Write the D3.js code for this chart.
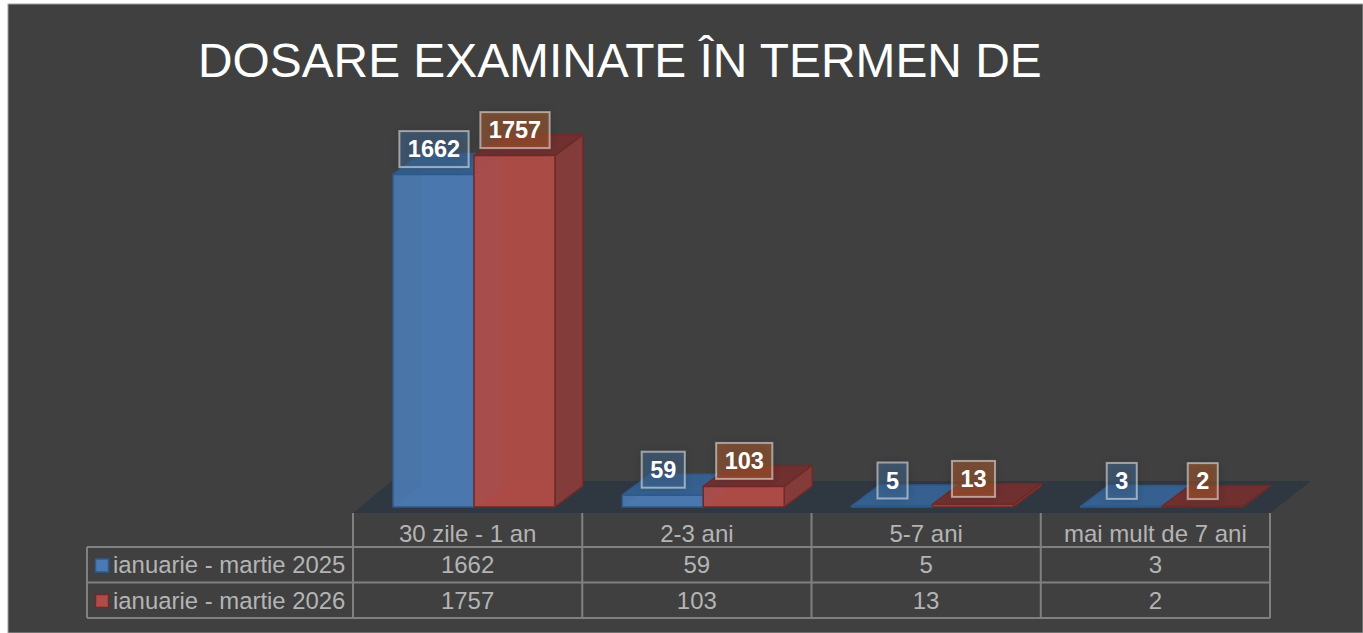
<!DOCTYPE html>
<html>
<head>
<meta charset="utf-8">
<script src="https://cdn.jsdelivr.net/npm/d3@7"></script>
<style>
  html, body { margin: 0; padding: 0; background: #fff; overflow: hidden; }
  svg { display: block; font-family: "Liberation Sans", Arial, sans-serif; }
</style>
</head>
<body>
<svg id="chart" width="1363" height="633"></svg>
<script>
const categories = ['30 zile - 1 an', '2-3 ani', '5-7 ani', 'mai mult de 7 ani'];
const seriesNames = ['ianuarie - martie 2025', 'ianuarie - martie 2026'];
const values2025 = [1662, 59, 5, 3];
const values2026 = [1757, 103, 13, 2];
const titleText = 'DOSARE EXAMINATE ÎN TERMEN DE';

const svg = d3.select('#chart');

const seriesValues = [values2025, values2026];
const colors = [
  { front: '#4b79b2', side: '#3d628f', top: '#35608f', edge: '#2f5a8e', label: 'rgba(68,108,152,.5)' },
  { front: '#b04c47', side: '#853c3a', top: '#6f2f2e', edge: '#6e2a28', label: 'rgba(180,96,48,.5)' }
];

// scales
const x = d3.scaleBand().domain(categories).range([353, 1270]);
const x1 = d3.scaleBand().domain(seriesNames).range([40, 202]);
const y = d3.scaleLinear().domain([0, 2000]).range([507, 107]);
const depthX = 28, depthY = 21;

// background
svg.append('rect').attr('x', 8).attr('y', 4).attr('width', 1355).attr('height', 629)
  .attr('fill', '#404040').attr('stroke', '#a0a0a0').attr('stroke-width', 1);

let defs = svg.append('defs');
defs.append('filter').attr('id', 'blur').attr('x', '-40%').attr('y', '-40%').attr('width', '180%').attr('height', '180%')
  .append('feGaussianBlur').attr('stdDeviation', 5);

// title
svg.append('text').attr('x', 198).attr('y', 77).attr('fill', '#fff')
  .attr('font-size', 47.85).text(titleText);

// floor
svg.append('polygon')
  .attr('points', [[353, 513], [1270, 513], [1311, 481], [392, 481]].join(' '))
  .attr('fill', '#2f3741');

// bars
function face(g, pts, fill, stroke, opacity) {
  g.append('polygon').attr('points', pts.join(' '))
    .attr('fill', fill).attr('fill-opacity', opacity)
    .attr('stroke', stroke).attr('stroke-width', 1.5).attr('stroke-linejoin', 'round');
}

seriesNames.forEach((name, s) => {
  const c = colors[s];
  categories.forEach((cat, i) => {
    const g = svg.append('g').attr('class', 'bar');
    const x0 = x(cat) + x1(name);
    const x2 = x0 + x1.bandwidth();
    const top = y(seriesValues[s][i]);
    const base = y(0);
    // inner faces show through the translucent front
    face(g, [[x0 + depthX, base - depthY], [x2 + depthX, base - depthY], [x2 + depthX, top - depthY], [x0 + depthX, top - depthY]], c.front, 'none', 0.5);
    face(g, [[x0, base], [x2, base], [x2 + depthX, base - depthY], [x0 + depthX, base - depthY]], c.front, 'none', 0.6);
    face(g, [[x0, top], [x2, top], [x2 + depthX, top - depthY], [x0 + depthX, top - depthY]], c.top, c.edge, 0.95);
    face(g, [[x2, base], [x2 + depthX, base - depthY], [x2 + depthX, top - depthY], [x2, top]], c.side, c.edge, 0.95);
    face(g, [[x0, base], [x2, base], [x2, top], [x0, top]], c.front, c.edge, 0.92);
  });
});

// data labels
seriesNames.forEach((name, s) => {
  categories.forEach((cat, i) => {
    const v = seriesValues[s][i];
    const cx = x(cat) + x1(name) + x1.bandwidth() / 2 + 0.5;
    const cy = y(v) - 25.5;
    const g = svg.append('g').attr('class', 'data-label');
    const t = g.append('text').attr('x', cx).attr('y', cy + 8)
      .attr('text-anchor', 'middle').attr('fill', '#fff')
      .attr('font-weight', 'bold').attr('font-size', 23.5).text(v);
    const w = t.node().getComputedTextLength() + 17;
    g.insert('rect', 'text').attr('x', cx - w / 2).attr('y', cy - 18).attr('width', w).attr('height', 36)
      .attr('fill', '#000').attr('opacity', 0.18).attr('filter', 'url(#blur)');
    g.insert('rect', 'text').attr('x', cx - w / 2).attr('y', cy - 18).attr('width', w).attr('height', 36)
      .attr('fill', colors[s].label).attr('stroke', 'rgba(255,255,255,.5)').attr('stroke-width', 2);
  });
});

// data table
const tableColor = '#808080', tableText = '#b4b4b4';
const rowY = d3.scaleOrdinal().domain(seriesNames).range([547, 582.5]);
const rowH = 35.5;
const table = svg.append('g').attr('class', 'table');

x.domain().concat(null).forEach((cat) => {
  const px = cat === null ? x.range()[1] : x(cat);
  table.append('line').attr('x1', px).attr('x2', px).attr('y1', 513).attr('y2', 618);
});
table.append('line').attr('x1', 87).attr('x2', 87).attr('y1', 547).attr('y2', 618);
[547, 582.5, 618].forEach((py) => {
  table.append('line').attr('x1', 87).attr('x2', 1270).attr('y1', py).attr('y2', py);
});
table.selectAll('line').attr('stroke', tableColor).attr('stroke-width', 2);

// category labels
const axis = svg.append('g').attr('transform', 'translate(0,513)')
  .call(d3.axisBottom(x).tickSize(0).tickPadding(12));
axis.select('.domain').remove();
axis.selectAll('text').attr('fill', tableText).attr('font-size', 24)
  .attr('font-family', '"Liberation Sans", Arial, sans-serif');

// rows
seriesNames.forEach((name, s) => {
  const top = rowY(name);
  table.append('rect').attr('x', 95.5).attr('y', top + 12).attr('width', 13).attr('height', 13)
    .attr('fill', colors[s].front).attr('stroke', colors[s].edge).attr('stroke-width', 1.5);
  table.append('text').attr('x', 113).attr('y', top + rowH / 2 + 8.5)
    .attr('fill', tableText).attr('font-size', 23.9).text(name);
  categories.forEach((cat, i) => {
    table.append('text').attr('x', x(cat) + x.bandwidth() / 2).attr('y', top + rowH / 2 + 8.5)
      .attr('text-anchor', 'middle').attr('fill', tableText).attr('font-size', 24)
      .text(seriesValues[s][i]);
  });
});
</script>
</body>
</html>
